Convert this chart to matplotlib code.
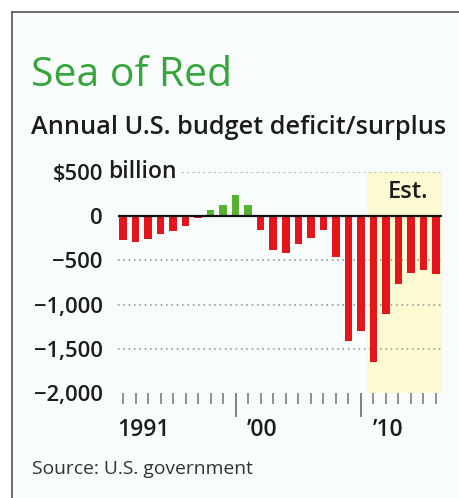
import matplotlib
matplotlib.use("Agg")
import matplotlib.pyplot as plt
import matplotlib.ticker as ticker
from matplotlib.lines import Line2D
from matplotlib.patches import Rectangle

plt.rcParams["font.family"] = ["Open Sans", "DejaVu Sans"]

# Annual federal budget balance, $ billion (2011 onward are estimates)
years = list(range(1991, 2017))
balance = [-269, -290, -255, -203, -164, -107, -22, 69, 126, 236, 128,
           -158, -378, -413, -318, -248, -161, -459, -1413, -1294,
           -1645, -1101, -768, -645, -607, -649]
est_start = 2011

y_ticks = [500, 0, -500, -1000, -1500, -2000]
y_labels = ["$500", "0", "\u2212500", "\u22121,000", "\u22121,500", "\u22122,000"]
decade_years = [2000, 2010]
x_labels = {1991: "1991", 2000: "\u201900", 2010: "\u201910"}

RED = "#e5151c"
GREEN = "#56b22f"
TITLE_GREEN = "#36a53c"
BG = "#f8fcfd"
INK = "#1c1c1c"

W, H = 459, 498
fig = plt.figure(figsize=(W / 100, H / 100), dpi=100)
fig.patch.set_facecolor("white")


def fx(px):
    return px / W


def fy(py):
    return 1 - py / H


# panel background and frame (left and top edges)
fig.patches.append(Rectangle((fx(12), 0), 1, fy(12), transform=fig.transFigure,
                             facecolor=BG, edgecolor="none", zorder=-5))
fig.lines.append(Line2D([fx(12), fx(12)], [0, fy(12)], transform=fig.transFigure,
                        color="#555555", lw=1.2))
fig.lines.append(Line2D([fx(12), 1], [fy(12), fy(12)], transform=fig.transFigure,
                        color="#555555", lw=1.2))

fig.text(fx(31), fy(76), "Sea of Red", color=TITLE_GREEN, fontsize=29.5,
         fontweight="medium", va="center", ha="left")
fig.text(fx(31), fy(128), "Annual U.S. budget deficit/surplus", color=INK,
         fontsize=18.2, fontweight="semibold", va="center", ha="left")
fig.text(fx(32), fy(469), "Source: U.S. government", color="#333333",
         fontsize=13.9, va="center", ha="left")

ax = fig.add_axes([fx(118), fy(393), fx(442) - fx(118), fy(172) - fy(393)])
ax.set_facecolor("none")
ax.set_xlim(1990.6, 2016.48)
ax.set_ylim(-2000, 500)

ax.axvspan(est_start - 0.5, 2016.6, color="#fcfad2", zorder=0, lw=0)

for v in [500, -500, -1000, -1500]:
    ax.axhline(v, color="#8a8a8a", lw=1.1, ls=(0, (1, 2.5)), zorder=1)

colors = [GREEN if b > 0 else RED for b in balance]
ax.bar(years, balance, width=0.6, color=colors, zorder=2)
ax.axhline(0, color="#111111", lw=1.6, zorder=3)

ax.text(2013.8, 270, "Est.", fontsize=17, fontweight="semibold", color=INK,
        ha="center", va="center")

for s in ax.spines.values():
    s.set_visible(False)

ax.set_yticks(y_ticks)
ax.set_yticklabels(y_labels)
ax.tick_params(axis="y", length=0, pad=11, labelsize=15.8, labelcolor=INK)
for lab in ax.get_yticklabels():
    lab.set_fontweight("semibold")

# "billion" follows the top tick label, masking the gridline behind it
fig.text(fx(108), fy(172), "billion", fontsize=16.5, fontweight="semibold",
         color=INK, ha="left", va="center",
         bbox=dict(facecolor=BG, edgecolor="none", pad=1.5))

# one tick per year, longer ones at the decades
ax.xaxis.set_major_locator(ticker.FixedLocator(years))
ax.xaxis.set_major_formatter(ticker.NullFormatter())
ax.tick_params(axis="x", direction="out", length=8, width=1.2, color="#808080")
for yr, tk in zip(years, ax.xaxis.get_major_ticks()):
    if yr in decade_years:
        tk.tick1line.set_markersize(17)
        tk.tick1line.set_markeredgewidth(1.4)

label_x = {1991: 1990.55, 2000: 2000.9, 2010: 2010.95}
for yr, lab in x_labels.items():
    ax.text(label_x[yr], -2420, lab, fontsize=16.5, fontweight="semibold",
            color=INK, ha="left", va="center")

fig.savefig("out.png", dpi=100, facecolor=fig.get_facecolor())
